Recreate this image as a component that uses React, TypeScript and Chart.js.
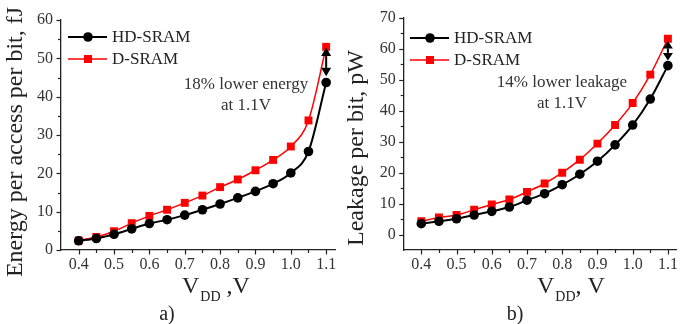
import React, { useEffect, useRef } from 'react';
import { Chart, registerables } from 'chart.js';

Chart.register(...registerables);

// ---------- data ----------
const vdd = [0.4, 0.45, 0.5, 0.55, 0.6, 0.65, 0.7, 0.75, 0.8, 0.85, 0.9, 0.95, 1.0, 1.05, 1.1];
const energyHD = [2.4, 3.0, 4.1, 5.5, 6.9, 7.9, 9.1, 10.5, 12.0, 13.6, 15.3, 17.3, 20.1, 25.7, 43.7];
const energyD = [2.5, 3.4, 4.9, 7.0, 8.9, 10.5, 12.3, 14.2, 16.4, 18.4, 20.8, 23.5, 27.0, 33.8, 53.0];
const leakHD = [3.5, 4.3, 5.1, 6.3, 7.5, 8.9, 11.1, 13.2, 16.1, 19.5, 23.7, 29.0, 35.4, 43.8, 54.6];
const leakD = [4.3, 5.5, 6.3, 8.0, 9.7, 11.3, 13.8, 16.5, 20.0, 24.2, 29.4, 35.4, 42.5, 51.7, 63.3];
const xTicks = [0.4, 0.5, 0.6, 0.7, 0.8, 0.9, 1.0, 1.1];
const energyTicks = [0, 10, 20, 30, 40, 50, 60];
const leakTicks = [0, 10, 20, 30, 40, 50, 60, 70];
const seriesNames = ['HD-SRAM', 'D-SRAM'];

const SERIF = "'Liberation Serif', 'Times New Roman', serif";
const TEXT = '#222';

type PanelCfg = {
  left: number;
  width: number;
  hd: number[];
  d: number[];
  yMin: number;
  yMax: number;
  yTicks: number[];
  padTop: number;
  padRight: number;
  yWidth: number;
  yTitle: string;
  yTitleX: number;
  yTitleY: number;
  yTitleSize: number;
  xTitleStart: number;
  xTitleTail: string;
  label: string;
  labelX: number;
  note1: string;
  note2: string;
  noteX: number;
  noteY: number;
  legX: number;
  legY: number;
  arrowTop: number;
  arrowBot: number;
  arrowHead: number;
};

const panels: PanelCfg[] = [
  {
    left: 0, width: 345, hd: energyHD, d: energyD, yMin: 0, yMax: 60, yTicks: energyTicks,
    padTop: 20, padRight: 10, yWidth: 61,
    yTitle: 'Energy per access per bit, fJ', yTitleX: 16, yTitleY: 142, yTitleSize: 24,
    xTitleStart: 182, xTitleTail: ' ,V', label: 'a)', labelX: 167,
    note1: '18% lower energy', note2: 'at 1.1V', noteX: 246, noteY: 85,
    legX: 68, legY: 37, arrowTop: 52.8, arrowBot: 45.3, arrowHead: 8.5,
  },
  {
    left: 345, width: 344, hd: leakHD, d: leakD, yMin: -5, yMax: 70, yTicks: leakTicks,
    padTop: 18, padRight: 12.3, yWidth: 58.7,
    yTitle: 'Leakage per bit, pW', yTitleX: 12, yTitleY: 148, yTitleSize: 24,
    xTitleStart: 192, xTitleTail: ', V', label: 'b)', labelX: 170,
    note1: '14% lower leakage', note2: 'at 1.1V', noteX: 217, noteY: 83,
    legX: 65, legY: 38, arrowTop: 62.6, arrowBot: 56.3, arrowHead: 7.5,
  },
];

function makeDecor(cfg: PanelCfg) {
  return {
    id: 'decor' + cfg.label,
    afterDatasetsDraw(chart: any) {
      const { ctx } = chart;
      const xs = chart.scales.x;
      const ys = chart.scales.y;
      ctx.save();
      // double-headed arrow at 1.1 V
      const ax = xs.getPixelForValue(1.1);
      const yt = ys.getPixelForValue(cfg.arrowTop);
      const yb = ys.getPixelForValue(cfg.arrowBot);
      const h = cfg.arrowHead;
      const hw = 5;
      ctx.strokeStyle = '#000';
      ctx.fillStyle = '#000';
      ctx.lineWidth = 2;
      ctx.beginPath();
      ctx.moveTo(ax, yt + h);
      ctx.lineTo(ax, yb - h);
      ctx.stroke();
      ctx.beginPath();
      ctx.moveTo(ax, yt);
      ctx.lineTo(ax - hw, yt + h);
      ctx.lineTo(ax + hw, yt + h);
      ctx.closePath();
      ctx.fill();
      ctx.beginPath();
      ctx.moveTo(ax, yb);
      ctx.lineTo(ax - hw, yb - h);
      ctx.lineTo(ax + hw, yb - h);
      ctx.closePath();
      ctx.fill();
      ctx.restore();
    },
    afterDraw(chart: any) {
      const { ctx, chartArea: area } = chart;
      const xs = chart.scales.x;
      const ys = chart.scales.y;
      ctx.save();
      // tick marks (major + minor)
      ctx.strokeStyle = '#222';
      ctx.lineWidth = 1.2;
      for (let i = 0; i < vdd.length; i++) {
        const px = Math.round(xs.getPixelForValue(vdd[i])) + 0.5;
        const len = i % 2 === 0 ? 4.5 : 3;
        ctx.beginPath();
        ctx.moveTo(px, area.bottom);
        ctx.lineTo(px, area.bottom + len);
        ctx.stroke();
      }
      for (let v = 0; v <= cfg.yMax; v += 5) {
        const py = Math.round(ys.getPixelForValue(v)) + 0.5;
        const len = v % 10 === 0 ? 4.5 : 3;
        ctx.beginPath();
        ctx.moveTo(area.left - len, py);
        ctx.lineTo(area.left, py);
        ctx.stroke();
      }
      ctx.fillStyle = TEXT;
      // y title
      ctx.save();
      ctx.translate(cfg.yTitleX, cfg.yTitleY);
      ctx.rotate(-Math.PI / 2);
      ctx.font = `${cfg.yTitleSize}px ${SERIF}`;
      ctx.textAlign = 'center';
      ctx.textBaseline = 'middle';
      ctx.fillText(cfg.yTitle, 0, 0);
      ctx.restore();
      // x title  V_DD ,V
      ctx.textAlign = 'left';
      ctx.textBaseline = 'alphabetic';
      let x = cfg.xTitleStart;
      const base = 293;
      ctx.font = `24px ${SERIF}`;
      ctx.fillText('V', x, base);
      x += ctx.measureText('V').width + 1;
      ctx.font = `14px ${SERIF}`;
      ctx.fillText('DD', x, base + 8);
      x += ctx.measureText('DD').width;
      ctx.font = `24px ${SERIF}`;
      ctx.fillText(cfg.xTitleTail, x, base);
      // panel label
      ctx.font = `20px ${SERIF}`;
      ctx.textAlign = 'center';
      ctx.fillText(cfg.label, cfg.labelX, 320);
      // note
      ctx.font = `17px ${SERIF}`;
      ctx.textBaseline = 'middle';
      ctx.fillStyle = '#333';
      ctx.fillText(cfg.note1, cfg.noteX, cfg.noteY);
      ctx.fillText(cfg.note2, cfg.noteX, cfg.noteY + 21);
      // legend
      const rows = [
        { name: seriesNames[0], color: '#000', shape: 'circle', lw: 2 },
        { name: seriesNames[1], color: '#ff0000', shape: 'rect', lw: 1.5 },
      ];
      rows.forEach((r, i) => {
        const y = cfg.legY + i * 22;
        ctx.strokeStyle = r.color;
        ctx.fillStyle = r.color;
        ctx.lineWidth = r.lw;
        ctx.beginPath();
        ctx.moveTo(cfg.legX, y);
        ctx.lineTo(cfg.legX + 39, y);
        ctx.stroke();
        const mx = cfg.legX + 20;
        if (r.shape === 'circle') {
          ctx.beginPath();
          ctx.arc(mx, y, 4.8, 0, Math.PI * 2);
          ctx.fill();
        } else {
          ctx.fillRect(mx - 4, y - 4, 8, 8);
        }
        ctx.fillStyle = TEXT;
        ctx.font = `17px ${SERIF}`;
        ctx.textAlign = 'left';
        ctx.textBaseline = 'middle';
        ctx.fillText(r.name, cfg.legX + 44, y + 1);
      });
      ctx.restore();
    },
  };
}

function Panel({ cfg }: { cfg: PanelCfg }) {
  const ref = useRef<HTMLCanvasElement>(null);
  useEffect(() => {
    const chart = new Chart(ref.current as HTMLCanvasElement, {
      type: 'line',
      data: {
        datasets: [
          {
            label: seriesNames[0],
            data: vdd.map((v, i) => ({ x: v, y: cfg.hd[i] })),
            borderColor: '#000',
            backgroundColor: '#000',
            borderWidth: 2,
            pointStyle: 'circle',
            pointRadius: 4.8,
            pointBorderWidth: 0,
            cubicInterpolationMode: 'monotone',
          },
          {
            label: seriesNames[1],
            data: vdd.map((v, i) => ({ x: v, y: cfg.d[i] })),
            borderColor: '#ff0000',
            backgroundColor: '#ff0000',
            borderWidth: 1.5,
            pointStyle: 'rect',
            pointRadius: 5.6,
            pointBorderWidth: 0,
            cubicInterpolationMode: 'monotone',
          },
        ],
      },
      options: {
        animation: false,
        responsive: true,
        maintainAspectRatio: false,
        layout: { padding: { left: 0, top: cfg.padTop, right: cfg.padRight, bottom: 0 } },
        plugins: { legend: { display: false }, tooltip: { enabled: false } },
        scales: {
          x: {
            type: 'linear',
            min: 0.35,
            max: 1.125,
            afterBuildTicks: (s: any) => {
              s.ticks = xTicks.map((v) => ({ value: v }));
            },
            afterFit: (s: any) => {
              s.height = 74;
            },
            ticks: {
              callback: (v: any) => Number(v).toFixed(1),
              font: { family: SERIF, size: 16 },
              color: '#333',
              padding: 5,
              maxRotation: 0,
              autoSkip: false,
            },
            grid: { display: false, drawTicks: false },
            border: { display: true, color: '#222', width: 1.3 },
          },
          y: {
            type: 'linear',
            min: cfg.yMin,
            max: cfg.yMax,
            afterBuildTicks: (s: any) => {
              s.ticks = cfg.yTicks.map((v) => ({ value: v }));
            },
            afterFit: (s: any) => {
              s.width = cfg.yWidth;
            },
            ticks: {
              font: { family: SERIF, size: 16 },
              color: '#333',
              padding: 8,
              autoSkip: false,
            },
            grid: { display: false, drawTicks: false },
            border: { display: true, color: '#222', width: 1.3 },
          },
        },
      } as any,
      plugins: [makeDecor(cfg)],
    });
    return () => chart.destroy();
  }, []);
  return (
    <div style={{ position: 'absolute', left: cfg.left, top: 0, width: cfg.width, height: 324 }}>
      <canvas ref={ref} />
    </div>
  );
}

export default function App() {
  return (
    <div style={{ position: 'absolute', left: 0, top: 0, width: 689, height: 324, background: '#fff' }}>
      {panels.map((p) => (
        <Panel key={p.label} cfg={p} />
      ))}
    </div>
  );
}
